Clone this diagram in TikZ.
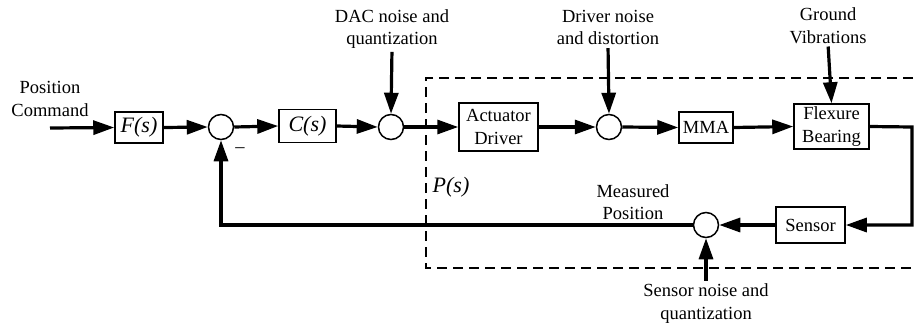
\documentclass[tikz,border=0pt]{standalone}
\usepackage{fontspec}
\setmainfont{Liberation Serif}
\usetikzlibrary{arrows.meta}
\begin{document}
\begin{tikzpicture}[x=1pt,y=-1pt,
  every node/.style={font=\fontsize{18.5}{22.5}\selectfont},
  blk/.style={draw,line width=1.5pt,inner sep=0pt,align=center},
  sumc/.style={draw,circle,line width=1.5pt,minimum size=25pt,inner sep=0pt},
  lbl/.style={align=center,inner sep=0pt},
  tf/.style={font=\fontsize{22}{26}\selectfont\itshape},
  sig/.style={line width=3.2pt},
  arr/.style={sig,-{Triangle[length=21pt,width=14pt]}},
  dashbox/.style={line width=1.4pt,dash pattern=on 10pt off 6pt}]
\useasboundingbox (0,0) rectangle (915,327);
% dashed plant boundary
\draw[dashbox] (913,78) -- (426,78) -- (426,268) -- (913,268);
% blocks
\node[blk,minimum width=48pt,minimum height=31pt,tf] (F) at (139,127.5) {F(s)};
\node[blk,minimum width=57pt,minimum height=33pt,tf] (C) at (307.5,126) {C(s)};
\node[blk,minimum width=79pt,minimum height=48pt] (act) at (498.5,127) {Actuator\\Driver};
\node[blk,minimum width=54pt,minimum height=31pt] (mma) at (706,127.5) {MMA};
\node[blk,minimum width=75pt,minimum height=45pt] (flex) at (831.5,126.5) {Flexure\\Bearing};
\node[blk,minimum width=69pt,minimum height=36pt] (sens) at (810.5,225) {Sensor};
% summing junctions
\node[sumc] (s1) at (221,127) {};
\node[sumc] (s2) at (391,127) {};
\node[sumc] (s3) at (609,127) {};
\node[sumc] (s4) at (706,225) {};
% labels
\node[lbl] (pc) at (50,99) {Position\\Command};
\node[lbl] (dac) at (392,29) {DAC noise and\\quantization};
\node[lbl] (drv) at (608,27.5) {Driver noise\\and distortion};
\node[lbl] (gnd) at (828,25.5) {Ground\\Vibrations};
\node[lbl] (sn) at (706,303.5) {Sensor noise and\\quantization};
\node[lbl] (mp) at (633,202) {Measured\\Position};
\node[lbl,tf] (P) at (451,187) {P(s)};
\node[lbl] (minus) at (240,150) {\textendash};
\coordinate (in) at (50,128);
\coordinate (corner) at (912,127);
% signals
\draw[arr] (in) -- (F.west);
\draw[arr] (F.east) -- (s1.west);
\draw[arr] (s1.east) -- (C.west);
\draw[arr] (C.east) -- (s2.west);
\draw[arr] (s2.east) -- (act.west);
\draw[arr] (act.east) -- (s3.west);
\draw[arr] (s3.east) -- (mma.west);
\draw[arr] (mma.east) -- (flex.west);
\draw[arr] (flex.east) -- (corner) |- (sens.east);
\draw[arr] (sens.west) -- (s4.east);
\draw[arr] (s4.west) -| (s1.south);
\draw[arr,shorten <=3pt] (dac.south) -- (s2.north);
\draw[arr,shorten <=3pt] (drv.south) -- (s3.north);
\draw[arr,shorten <=3pt] (gnd.south) -- (flex.north);
\draw[arr,shorten <=3pt] (sn.north) -- (s4.south);
\end{tikzpicture}
\end{document}
